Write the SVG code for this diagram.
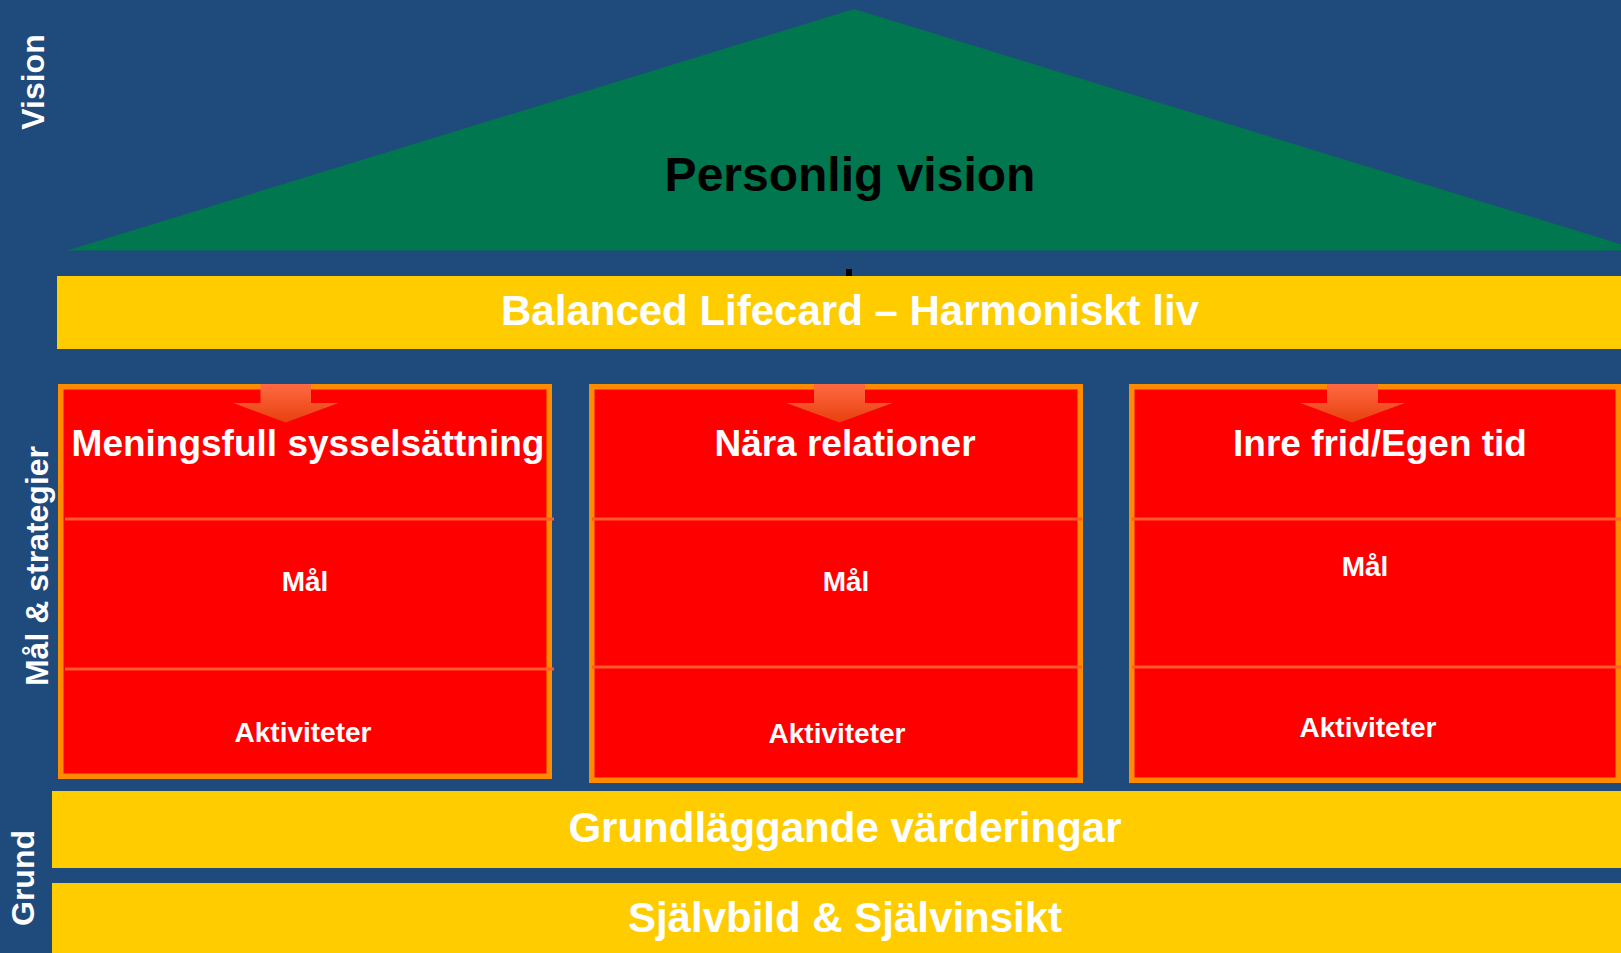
<svg xmlns="http://www.w3.org/2000/svg" width="1621" height="953" viewBox="0 0 1621 953">
<style>
.lbl{font-family:"Liberation Sans",Arial,sans-serif;font-weight:bold;fill:#fff;text-anchor:middle}
.side{font-size:32px}
.band{fill:#FFCC00}
.box{fill:#FF0000;stroke:#FF8C00;stroke-width:5.5}
.div{stroke:#FF5A2A;stroke-width:3}
.title{font-size:37px}
.sub{font-size:28px}
.big{font-size:42px}
.arrow{fill:url(#ag)}
</style>
<defs>
<linearGradient id="ag" x1="0" y1="0" x2="0" y2="1">
<stop offset="0" stop-color="#FF6A42"/>
<stop offset="1" stop-color="#E8400E"/>
</linearGradient>
</defs>
<rect x="0" y="0" width="1621" height="953" fill="#1F4A7C"/>

<g id="side-labels">
<text class="lbl side" x="44" y="82" transform="rotate(-90 44 82)">Vision</text>
<text class="lbl side" x="48" y="566" transform="rotate(-90 48 566)">Mål &amp; strategier</text>
<text class="lbl side" x="34" y="878" transform="rotate(-90 34 878)">Grund</text>
</g>

<g id="vision">
<polygon points="67,250.5 854,9 1641,250.5" fill="#00774E"/>
<text class="lbl" x="850" y="191" style="font-size:48px;fill:#000">Personlig vision</text>
</g>

<g id="connectors">
<rect x="846" y="269" width="6" height="7" fill="#000"/>
</g>

<g id="balanced">
<rect class="band" x="57" y="276" width="1564" height="73"/>
<text class="lbl big" x="850" y="325">Balanced Lifecard – Harmoniskt liv</text>
</g>

<g id="box1">
<rect class="box" x="60.75" y="386.75" width="488.5" height="389.5"/>
<line class="div" x1="65" y1="519" x2="554" y2="519"/>
<line class="div" x1="65" y1="669" x2="554" y2="669"/>
<polygon class="arrow" points="260.5,384 311,384 311,403 338.5,403 285.75,422.5 233,403 260.5,403"/>
<text class="lbl title" x="308" y="456">Meningsfull sysselsättning</text>
<text class="lbl sub" x="305" y="591">Mål</text>
<text class="lbl sub" x="303" y="742">Aktiviteter</text>
</g>

<g id="box2">
<rect class="box" x="591.75" y="386.75" width="488.5" height="393.5"/>
<line class="div" x1="592" y1="519" x2="1082" y2="519"/>
<line class="div" x1="592" y1="667" x2="1082" y2="667"/>
<polygon class="arrow" points="814,384 865,384 865,403 892.5,403 839.5,422.5 786.5,403 814,403"/>
<text class="lbl title" x="845" y="456">Nära relationer</text>
<text class="lbl sub" x="846" y="591">Mål</text>
<text class="lbl sub" x="837" y="743">Aktiviteter</text>
</g>

<g id="box3">
<rect class="box" x="1131.75" y="386.75" width="486.5" height="393.5"/>
<line class="div" x1="1132" y1="519" x2="1621" y2="519"/>
<line class="div" x1="1132" y1="667" x2="1621" y2="667"/>
<polygon class="arrow" points="1327,384 1378,384 1378,403 1405,403 1352,422.5 1300.5,403 1327,403"/>
<text class="lbl title" x="1380" y="456">Inre frid/Egen tid</text>
<text class="lbl sub" x="1365" y="576">Mål</text>
<text class="lbl sub" x="1368" y="737">Aktiviteter</text>
</g>

<g id="values">
<rect class="band" x="52" y="791" width="1569" height="77"/>
<text class="lbl big" x="845" y="842">Grundläggande värderingar</text>
</g>

<g id="selfimage">
<rect class="band" x="52" y="883" width="1569" height="70"/>
<text class="lbl big" x="845" y="932">Självbild &amp; Självinsikt</text>
</g>
</svg>
